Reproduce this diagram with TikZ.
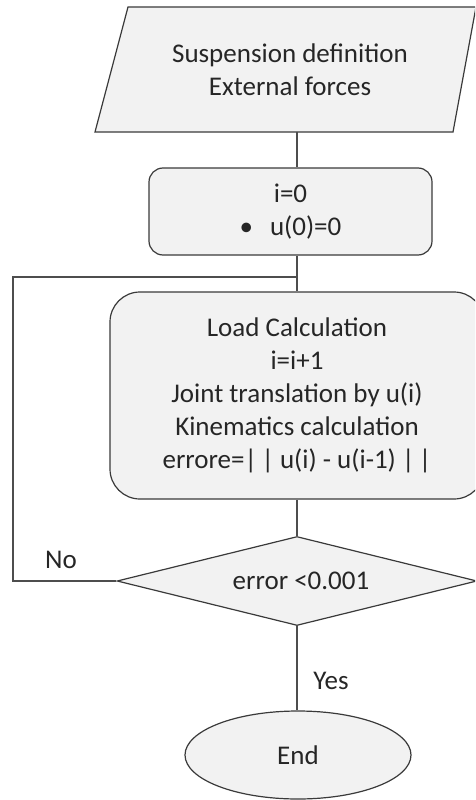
\documentclass[tikz,border=0pt]{standalone}
\usepackage{fontspec}
\setmainfont{Carlito}
\usetikzlibrary{shapes.geometric}
\definecolor{boxfill}{HTML}{F2F2F2}
\definecolor{edge}{HTML}{3A3A3A}
\definecolor{conn}{HTML}{4D4D4D}
\definecolor{txt}{HTML}{262626}
\tikzset{
  shapestyle/.style={draw=edge, fill=boxfill, line width=1.2pt},
  boxstyle/.style={shapestyle, rectangle, inner sep=0pt, align=center, text=txt},
  connstyle/.style={draw=conn, line width=1.8pt},
  lbl/.style={text=txt, inner sep=0pt},
}
\begin{document}
\begin{tikzpicture}[x=1pt, y=-1pt, font=\fontsize{27}{33}\selectfont]
\useasboundingbox (0,0) rectangle (475,800);
\clip (0,0) rectangle (475,800);
% input parallelogram
\draw[shapestyle] (128,7) -- (476,7) -- (453,132) -- (95,132) -- cycle;
\node[lbl, align=center] (inp) at (290,70) {Suspension definition\\External forces};
\coordinate (inpb) at (297,132);
% init box
\node[boxstyle, rounded corners=14pt, minimum width=283pt, minimum height=87pt] (init) at (290.5,211.5)
  {i=0\\\textbullet\hspace{17pt}u(0)=0};
% loop joint
\coordinate (j) at (297,277);
\coordinate (lp) at (13,277);
% main box
\node[boxstyle, rounded corners=30pt, minimum width=374pt, minimum height=207pt] (calc) at (297,395.5)
  {Load Calculation\\i=i+1\\Joint translation by u(i)\\Kinematics calculation\\errore=|\,| u(i) - u(i-1) |\,|};
% decision
\node[shapestyle, diamond, aspect=4, inner sep=0pt, minimum width=360pt, minimum height=89pt] (dec) at (297,581) {};
\node[lbl] (dect) at (301,581) {error <0.001};
% end
\node[shapestyle, ellipse, inner sep=0pt, minimum width=226pt, minimum height=88pt, text=txt] (end) at (298,755) {End};
% connectors
\draw[connstyle] (inpb) -- (inpb |- init.north);
\draw[connstyle] (j |- init.south) -- (j |- calc.north);
\draw[connstyle] (dec.west) -| (lp) -- (j);
\draw[connstyle] (calc.south -| dec.north) -- (dec.north);
\draw[connstyle] (dec.south) -- (dec.south |- end.north);
% labels
\node[lbl] (no) at (61,560) {No};
\node[lbl] (yes) at (331,681) {Yes};
\end{tikzpicture}
\end{document}
